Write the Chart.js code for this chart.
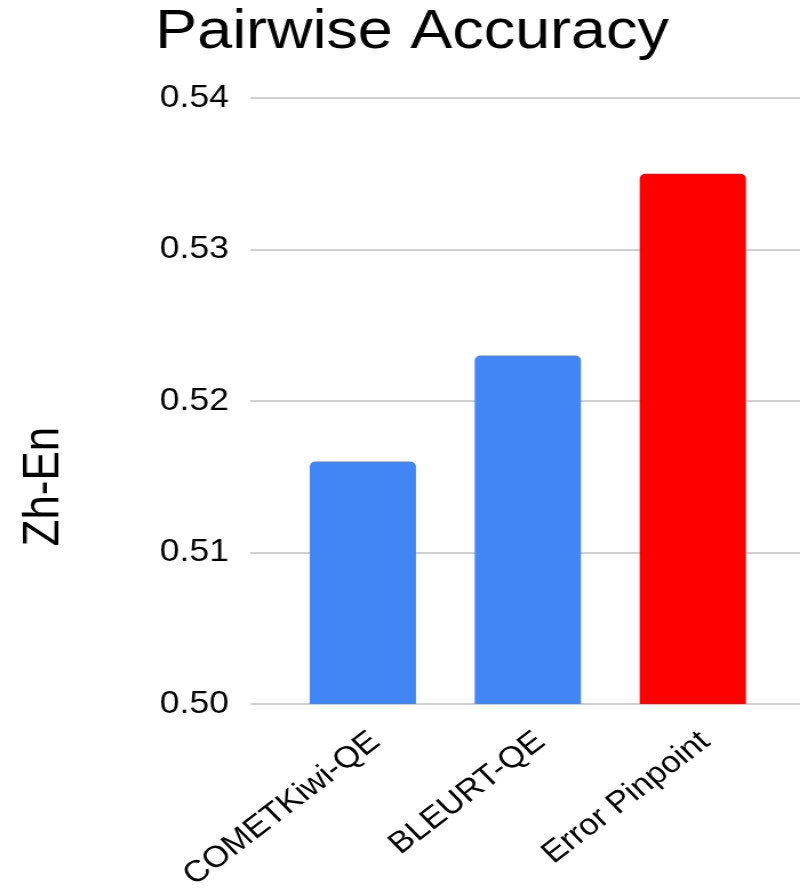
<!DOCTYPE html>
<html>
<head>
<meta charset="utf-8">
<script src="https://cdn.jsdelivr.net/npm/chart.js@4/dist/chart.umd.min.js"></script>
<style>
  html, body { margin: 0; padding: 0; background: #fff; overflow: hidden; }
  canvas { display: block; }
</style>
</head>
<body>
<canvas id="c" width="700" height="891" style="width:800px;height:891px"></canvas>
<script>
// Pairwise accuracy of quality-estimation metrics, Zh-En
const categories = ['COMETKiwi-QE', 'BLEURT-QE', 'Error Pinpoint'];
const accuracy = [0.516, 0.523, 0.535];
const barColors = ['#4285F4', '#4285F4', '#FF0000'];
const yMin = 0.50;
const yMax = 0.54;
const yStep = 0.01;

const FONT = "'Liberation Sans', Arial, Helvetica, sans-serif";
const GRID = '#d0d0d0';

// bars sit on a numeric index axis so the plot can run past the last bar
const points = accuracy.map((v, i) => ({ x: i, y: v }));

new Chart(document.getElementById('c'), {
  type: 'bar',
  data: {
    datasets: [{
      data: points,
      backgroundColor: barColors,
      borderWidth: 0,
      borderRadius: { topLeft: 5, topRight: 5, bottomLeft: 0, bottomRight: 0 },
      borderSkipped: 'start',
      categoryPercentage: 1,
      barPercentage: 0.644
    }]
  },
  options: {
    responsive: false,
    devicePixelRatio: 1,
    animation: false,
    layout: { padding: { left: 21, right: 0, top: 0, bottom: 0 } },
    plugins: {
      legend: { display: false },
      tooltip: { enabled: false },
      title: {
        display: true,
        text: 'Pairwise Accuracy',
        color: '#000',
        font: { family: FONT, size: 55, weight: 'normal', lineHeight: 1.2 },
        padding: { top: 0, bottom: 32 }
      }
    },
    scales: {
      x: {
        type: 'linear',
        offset: false,
        min: -0.681,
        max: 2.65,
        grid: { display: false, offset: false },
        border: { display: false },
        afterBuildTicks: scale => {
          scale.ticks = categories.map((_, i) => ({ value: i }));
        },
        afterFit: scale => {
          scale.height = 187;
        },
        ticks: {
          color: '#000',
          font: { family: FONT, size: 30 },
          minRotation: 41,
          maxRotation: 41,
          padding: 12,
          labelOffset: 11,
          autoSkip: false,
          callback: v => categories[v]
        }
      },
      y: {
        position: 'left',
        min: yMin,
        max: yMax,
        border: { display: false },
        grid: { color: GRID, lineWidth: 2, drawTicks: false },
        ticks: {
          stepSize: yStep,
          color: '#000',
          padding: 19,
          font: { family: FONT, size: 31 },
          callback: v => v.toFixed(2)
        },
        title: {
          display: true,
          text: 'Zh-En' + ' '.repeat(14),
          color: '#000',
          font: { family: FONT, size: 44, lineHeight: 0.7 },
          padding: { top: 2, bottom: 67 }
        }
      }
    }
  }
});
</script>
</body>
</html>
